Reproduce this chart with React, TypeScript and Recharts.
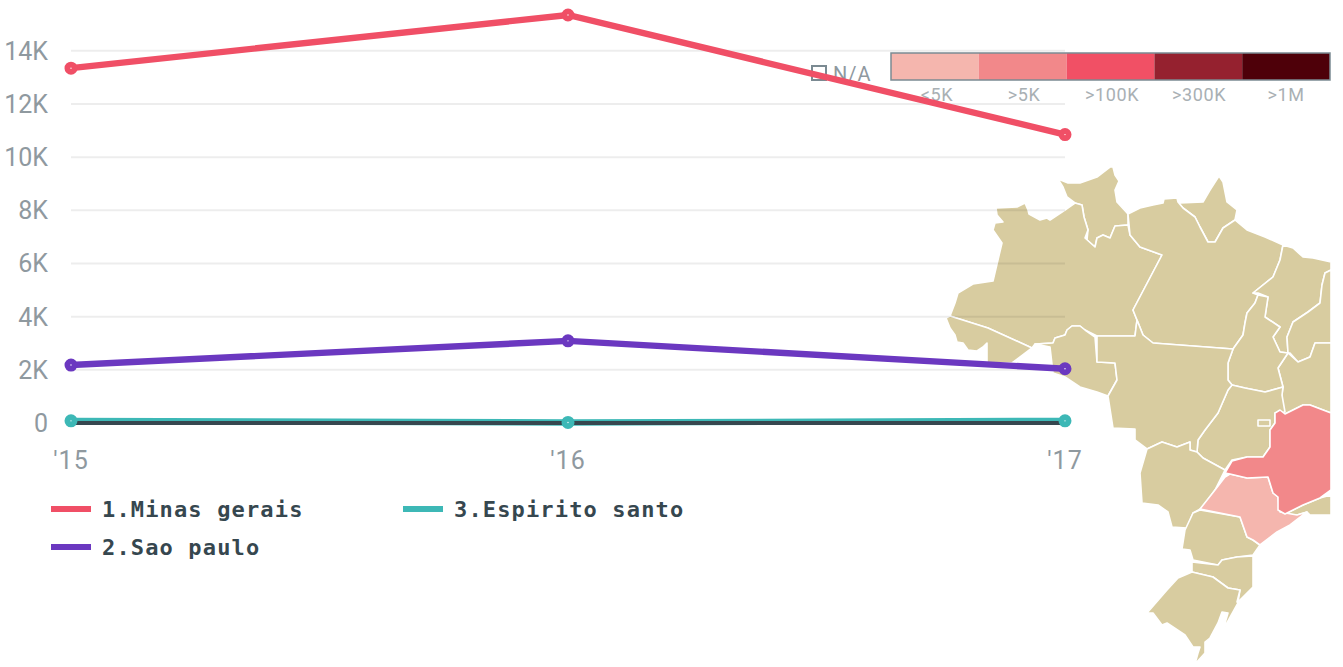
import React from "react";
import { ComposedChart, Line, XAxis, YAxis, CartesianGrid, Legend } from "recharts";

const years = ["'15", "'16", "'17"];
const minasGerais = [13350, 15350, 10850];
const saoPaulo = [2180, 3090, 2040];
const espiritoSanto = [80, 20, 80];
const baseline = [0, 0, 0];
const yTicks = [0, 2000, 4000, 6000, 8000, 10000, 12000, 14000];

const legendRows = ["1.Minas gerais", "2.Sao paulo", "3.Espirito santo"];
const scaleLabels = ["<5K", ">5K", ">100K", ">300K", ">1M"];
const scaleColors = ["#F5B6AE", "#F2888A", "#F15065", "#95212F", "#4E0009"];

const RED = "#F04F66";
const PURPLE = "#6B38C0";
const TEAL = "#3DB8B6";
const DARK = "#36474F";
const LAND = "#D8CCA0";
const TICK = "#8F999F";

const tableData = years.map((year, i) => ({
  year,
  a: minasGerais[i],
  b: saoPaulo[i],
  c: espiritoSanto[i],
  z: baseline[i],
}));

const landStates = [
  "1058,179 1068,183 1080,183 1097,177 1110,167 1113,167 1115,175 1119,181 1115,190 1117,202 1128,214 1128,225 1115,226 1110,238 1103,235 1097,238 1095,247 1087,240 1088,230 1084,217 1082,205 1075,203 1067,197 1063,187",
  "996,208 1017,207 1025,203 1028,210 1029,214 1040,220 1047,218 1050,220 1065,210 1075,203 1082,205 1084,217 1088,230 1085,238 1095,247 1097,238 1103,235 1110,238 1115,226 1128,225 1130,235 1140,247 1162,255 1133,310 1137,320 1135,336 1097,336 1085,330 1080,326 1072,326 1067,330 1065,335 1055,338 1053,343 1035,344 1032,348 988,328 950,316 955,303 958,293 973,284 993,281 1002,243 993,230 995,223 1003,222 997,215",
  "946,318 950,316 988,328 1032,348 1012,363 987,363 987,343 983,347 977,351 968,350 963,343 957,342 955,335 950,328",
  "1035,344 1053,343 1055,338 1065,335 1067,330 1072,326 1080,326 1085,330 1095,337 1097,362 1115,363 1117,380 1108,396 1097,392 1080,387 1065,377 1053,373 1050,347",
  "1178,202 1180,203 1203,202 1210,190 1219,176 1223,182 1227,202 1237,210 1235,220 1223,228 1215,242 1208,242 1200,227 1195,217 1183,208",
  "1128,214 1140,208 1153,205 1163,203 1164,199 1177,198 1178,202 1183,208 1195,217 1200,227 1208,242 1215,242 1223,228 1235,220 1247,230 1265,237 1283,245 1280,260 1273,277 1253,293 1258,295 1255,303 1247,313 1245,323 1243,335 1233,349 1153,343 1143,335 1137,320 1133,310 1162,255 1140,247 1130,235",
  "1283,245 1293,248 1303,257 1313,258 1331,262 1331,270 1325,273 1322,285 1320,303 1308,312 1293,322 1287,337 1288,353 1280,352 1273,337 1280,327 1265,317 1268,297 1258,293 1253,293 1273,277 1280,260",
  "1331,270 1331,343 1315,343 1310,357 1298,362 1290,353 1288,353 1287,337 1293,322 1308,312 1320,303 1322,285 1325,273",
  "1288,353 1298,362 1310,357 1315,343 1331,343 1331,413 1310,405 1303,405 1285,414 1280,410 1283,387 1278,368",
  "1233,349 1243,335 1245,323 1247,313 1255,303 1258,295 1268,297 1265,317 1280,327 1273,337 1280,352 1288,353 1278,368 1283,387 1265,392 1245,388 1232,385 1228,380 1228,363",
  "1232,385 1245,388 1265,392 1283,387 1282,395 1285,412 1275,413 1275,423 1270,430 1270,447 1263,457 1247,457 1232,460 1225,470 1203,458 1197,452 1198,440 1205,430 1218,413 1228,390",
  "1097,336 1135,336 1137,320 1143,335 1153,343 1233,349 1228,363 1228,380 1232,385 1228,390 1218,413 1205,430 1198,440 1197,452 1190,450 1190,442 1177,447 1162,442 1147,449 1135,440 1135,429 1113,428 1108,396 1117,380 1115,363 1097,362",
  "1147,449 1140,473 1142,503 1158,505 1168,512 1172,527 1187,528 1193,513 1202,508 1215,490 1225,470 1203,458 1197,452 1190,450 1190,442 1177,447 1162,442",
  "1331,495 1320,498 1303,505 1285,514 1297,515 1307,512 1310,515 1331,515",
  "1193,513 1200,510 1240,517 1247,537 1253,540 1260,545 1253,555 1237,557 1222,560 1218,565 1193,560 1190,550 1182,549 1185,530",
  "1192,562 1218,565 1222,560 1237,557 1253,556 1253,587 1238,602 1240,590 1228,588 1213,577 1192,572",
  "1192,572 1213,577 1228,588 1240,590 1237,602 1238,603 1223,630 1228,613 1222,612 1218,623 1210,638 1205,642 1205,653 1195,664 1198,653 1200,647 1193,647 1185,635 1167,623 1162,625 1153,613 1147,613 1167,590 1178,578",
  "1258,420 1270,420 1270,426 1258,426",
];
const paleState = "1225,477 1230,474 1247,478 1268,477 1273,493 1278,497 1280,512 1297,515 1307,512 1303,515 1290,525 1277,532 1260,545 1253,540 1247,537 1240,517 1200,509 1215,490";
const midState = "1225,473 1232,461 1247,457 1263,457 1270,447 1270,430 1275,423 1275,413 1280,410 1285,414 1303,405 1310,405 1331,413 1331,490 1320,498 1303,505 1285,514 1278,510 1278,497 1273,493 1268,477 1247,478 1230,474";

const Dot = (color: string) => ({ r: 3.6, fill: "#fff", stroke: color, strokeWidth: 5.8, strokeOpacity: 1 });

const ColumnLegend = (props: any) => {
  const colors = [RED, PURPLE, TEAL];
  return (
    <div style={{ position: "relative", width: 800, height: 90 }}>
      {legendRows.map((label, i) => (
        <div
          key={label}
          style={{
            position: "absolute",
            left: i < 2 ? 0 : 352,
            top: i === 1 ? 38 : 0,
            display: "flex",
            alignItems: "center",
            height: 30,
            whiteSpace: "pre",
          }}
        >
          <span style={{ width: 40, height: 6, background: colors[i], marginRight: 11 }} />
          <span
            style={{
              fontFamily: "'DejaVu Sans Mono', monospace",
              fontWeight: 700,
              fontSize: 22,
              letterSpacing: 1.15,
              color: DARK,
            }}
          >
            {label}
          </span>
        </div>
      ))}
    </div>
  );
};

export default function App() {
  return (
    <div style={{ position: "absolute", left: 0, top: 0, width: 1343, height: 667, overflow: "hidden", background: "#fff" }}>
      <svg width={1343} height={667} style={{ position: "absolute", left: 0, top: 0 }}>
        <g stroke="#fff" strokeWidth={1.6} strokeLinejoin="round">
          {landStates.map((p, i) => (
            <polygon key={i} points={p} fill={LAND} />
          ))}
          <polygon points={paleState} fill={scaleColors[0]} />
          <polygon points={midState} fill={scaleColors[1]} />
        </g>
        <rect x={812} y={66} width={14} height={14} fill="none" stroke="#7B8A92" strokeWidth={2} />
        <text x={833} y={81} fontFamily="Roboto" fontWeight={400} fontSize={20} letterSpacing={1} fill="#8F999F">N/A</text>
        {scaleColors.map((c, i) => (
          <rect key={c} x={891 + i * 87.8} y={53} width={87.8} height={27} fill={c} />
        ))}
        <rect x={891} y={53} width={439} height={27} fill="none" stroke="#7B8A92" strokeWidth={1.5} />
        {scaleLabels.map((t, i) => (
          <text key={t} x={[937, 1024, 1112, 1199, 1286][i]} y={101} textAnchor="middle" fontFamily="Roboto" fontWeight={400} fontSize={18} letterSpacing={0.6} fill="#A9B0B4">
            {t}
          </text>
        ))}
      </svg>
      <div style={{ position: "absolute", left: 0, top: 0 }}>
        <ComposedChart
          width={1343}
          height={667}
          data={tableData}
          margin={{ top: 11, right: 278, left: 0, bottom: 214 }}
        >
          <CartesianGrid horizontal vertical={false} horizontalValues={yTicks} stroke="rgba(0,0,0,0.07)" strokeWidth={2} />
          <XAxis
            dataKey="year"
            scale="point"
            padding={{ left: 0, right: 0 }}
            axisLine={false}
            tickLine={false}
            tickSize={0}
            tickMargin={28}
            interval={0}
            tick={{ fontFamily: "Roboto", fontWeight: 400, fontSize: 25, fill: TICK, letterSpacing: 1 }}
          />
          <YAxis
            width={71}
            domain={[0, 15500]}
            ticks={yTicks}
            axisLine={false}
            tickLine={false}
            tickSize={0}
            tickMargin={23}
            tickFormatter={(v: number) => (v === 0 ? "0" : `${v / 1000}K`)}
            tick={{ fontFamily: "Roboto", fontWeight: 400, fontSize: 25, fill: TICK }}
          />
          <Legend
            verticalAlign="middle"
            align="center"
            content={<ColumnLegend />}
            wrapperStyle={{ position: "absolute", left: 51, top: 494, width: 800, height: 90 }}
          />
          <Line dataKey="a" name="1.Minas gerais" stroke={RED} strokeWidth={6.4} dot={Dot(RED)} isAnimationActive={false} />
          <Line dataKey="b" name="2.Sao paulo" stroke={PURPLE} strokeWidth={6.4} dot={Dot(PURPLE)} isAnimationActive={false} />
          <Line dataKey="c" name="3.Espirito santo" stroke={TEAL} strokeWidth={6.4} dot={Dot(TEAL)} isAnimationActive={false} />
          <Line dataKey="z" stroke={DARK} strokeWidth={4} dot={false} legendType="none" isAnimationActive={false} />
        </ComposedChart>
      </div>
    </div>
  );
}
